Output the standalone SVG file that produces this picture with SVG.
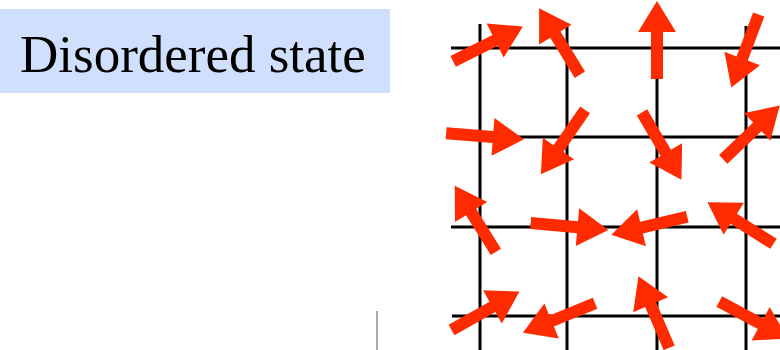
<svg xmlns="http://www.w3.org/2000/svg" xmlns:xlink="http://www.w3.org/1999/xlink" width="780" height="350" viewBox="0 0 780 350">
<style>
.grid line{stroke:#000;stroke-width:3}
.spin{fill:#ff2b00}
.label{font-family:"Liberation Serif","Times New Roman",serif;font-size:53px;fill:#000}
</style>
<defs>
<path id="arr" d="M-39,-6 L8,-6 L8,-19 L39,0 L8,19 L8,6 L-39,6 Z"/>
</defs>
<rect width="780" height="350" fill="#fff"/>
<g id="title">
<rect x="0" y="9" width="390" height="84" fill="#cfdffc"/>
<text class="label" x="20" y="72">Disordered state</text>
</g>
<line x1="377" y1="311" x2="377" y2="350" stroke="#aaa" stroke-width="2"/>
<g id="grid" class="grid">
<line x1="451" y1="48" x2="780" y2="48"/>
<line x1="451" y1="137" x2="780" y2="137"/>
<line x1="451" y1="227" x2="780" y2="227"/>
<line x1="452" y1="316" x2="780" y2="316"/>
<line x1="480" y1="24" x2="480" y2="350"/>
<line x1="567" y1="23" x2="567" y2="350"/>
<line x1="657" y1="24" x2="657" y2="350"/>
<line x1="746" y1="26" x2="746" y2="350"/>
</g>
<g id="spins" class="spin">
<use xlink:href="#arr" transform="translate(488,44) rotate(-26.6)"/>
<use xlink:href="#arr" transform="translate(559.5,41.5) rotate(-121.5)"/>
<use xlink:href="#arr" transform="translate(657,40) rotate(-90)"/>
<use xlink:href="#arr" transform="translate(745,51) rotate(110.6)"/>
<use xlink:href="#arr" transform="translate(485,136.3) rotate(4.4)"/>
<use xlink:href="#arr" transform="translate(563,142) rotate(124.5)"/>
<use xlink:href="#arr" transform="translate(661.7,146) rotate(59.6)"/>
<use xlink:href="#arr" transform="translate(751.5,132.4) rotate(-43.6)"/>
<use xlink:href="#arr" transform="translate(475.3,218.8) rotate(-121.8)"/>
<use xlink:href="#arr" transform="translate(569.5,226.5) rotate(5)"/>
<use xlink:href="#arr" transform="translate(649.3,225.8) rotate(166.6)"/>
<use xlink:href="#arr" transform="translate(740.5,223) rotate(-147.8)"/>
<use xlink:href="#arr" transform="translate(485.5,310.8) rotate(-29.5)"/>
<use xlink:href="#arr" transform="translate(559,318) rotate(157.7)"/>
<use xlink:href="#arr" transform="translate(653.8,312) rotate(-113.2)"/>
<use xlink:href="#arr" transform="translate(753.6,320) rotate(28.4)"/>
</g>
</svg>
